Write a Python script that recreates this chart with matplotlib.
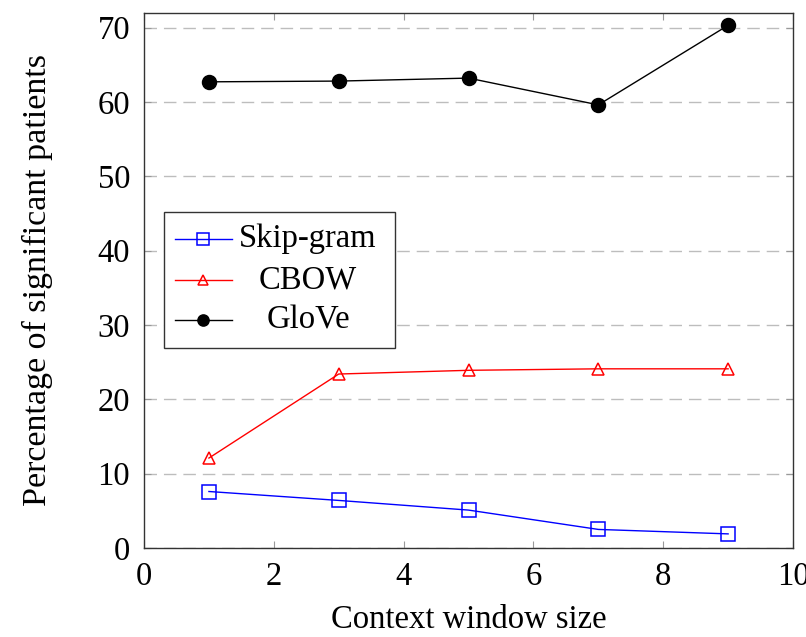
import numpy as np
import matplotlib
matplotlib.use('Agg')
import matplotlib.pyplot as plt
from matplotlib.patches import Rectangle

plt.rcParams['font.family'] = 'Liberation Serif'
plt.rcParams['font.size'] = 23.5

window = [1, 3, 5, 7, 9]
skip_gram = [7.6, 6.4, 5.1, 2.5, 1.9]
cbow = [12.1, 23.4, 23.9, 24.1, 24.1]
glove = [62.7, 62.8, 63.2, 59.6, 70.3]

series = [
    ('Skip-gram', skip_gram, 'blue', 's', 'none', 10),
    ('CBOW', cbow, 'red', '^', 'none', 9),
    ('GloVe', glove, 'black', 'o', 'black', 10),
]

fig = plt.figure(figsize=(8.06, 6.37), dpi=100)
ax = fig.add_axes([0.1787, 0.1397, 0.8052, 0.8404])

for name, vals, col, mk, fc, ms in series:
    ax.plot(window, vals, color=col, lw=1.0, marker=mk, markersize=ms,
            markerfacecolor=fc, markeredgecolor=col, markeredgewidth=1.1, zorder=3)

ax.set_xlim(0, 10)
ax.set_ylim(0, 72)
ax.set_xticks(np.arange(0, 11, 2))
ax.set_yticks(np.arange(0, 71, 10))
ax.yaxis.grid(True, linestyle=(0, (9, 5)), color='#bdbdbd', lw=1.0)
ax.set_axisbelow(True)
ax.tick_params(direction='in', top=True, right=True, length=5, width=0.8,
               color='#999999', pad=10, labelsize=23.5)
for s in ax.spines.values():
    s.set_color('#333333')
    s.set_linewidth(1.0)

ax.set_xlabel('Context window size', labelpad=9)
ax.set_ylabel('Percentage of significant patients', labelpad=32, fontsize=24.5)

# legend drawn by hand so labels can be centred like pgfplots
ax.add_patch(Rectangle((0.0308, 0.3736), 0.3559, 0.2541, transform=ax.transAxes,
                       facecolor='white', edgecolor='#333333', lw=1.0, zorder=5))
rows = [0.5773, 0.5007, 0.4259]
for (name, vals, col, mk, fc, ms), yy in zip(series, rows):
    ax.plot([0.0478, 0.1356], [yy, yy], color=col, lw=1.0, transform=ax.transAxes,
            zorder=6, clip_on=False)
    ax.plot([0.0909], [yy], color=col, marker=mk, markersize=ms * 0.8,
            markerfacecolor=fc, markeredgecolor=col, markeredgewidth=1.1,
            transform=ax.transAxes, zorder=7, clip_on=False)
    ax.text(0.2527, yy, name, transform=ax.transAxes, ha='center', va='center',
            fontsize=23.5, zorder=7)

fig.savefig('out.png', dpi=100)
